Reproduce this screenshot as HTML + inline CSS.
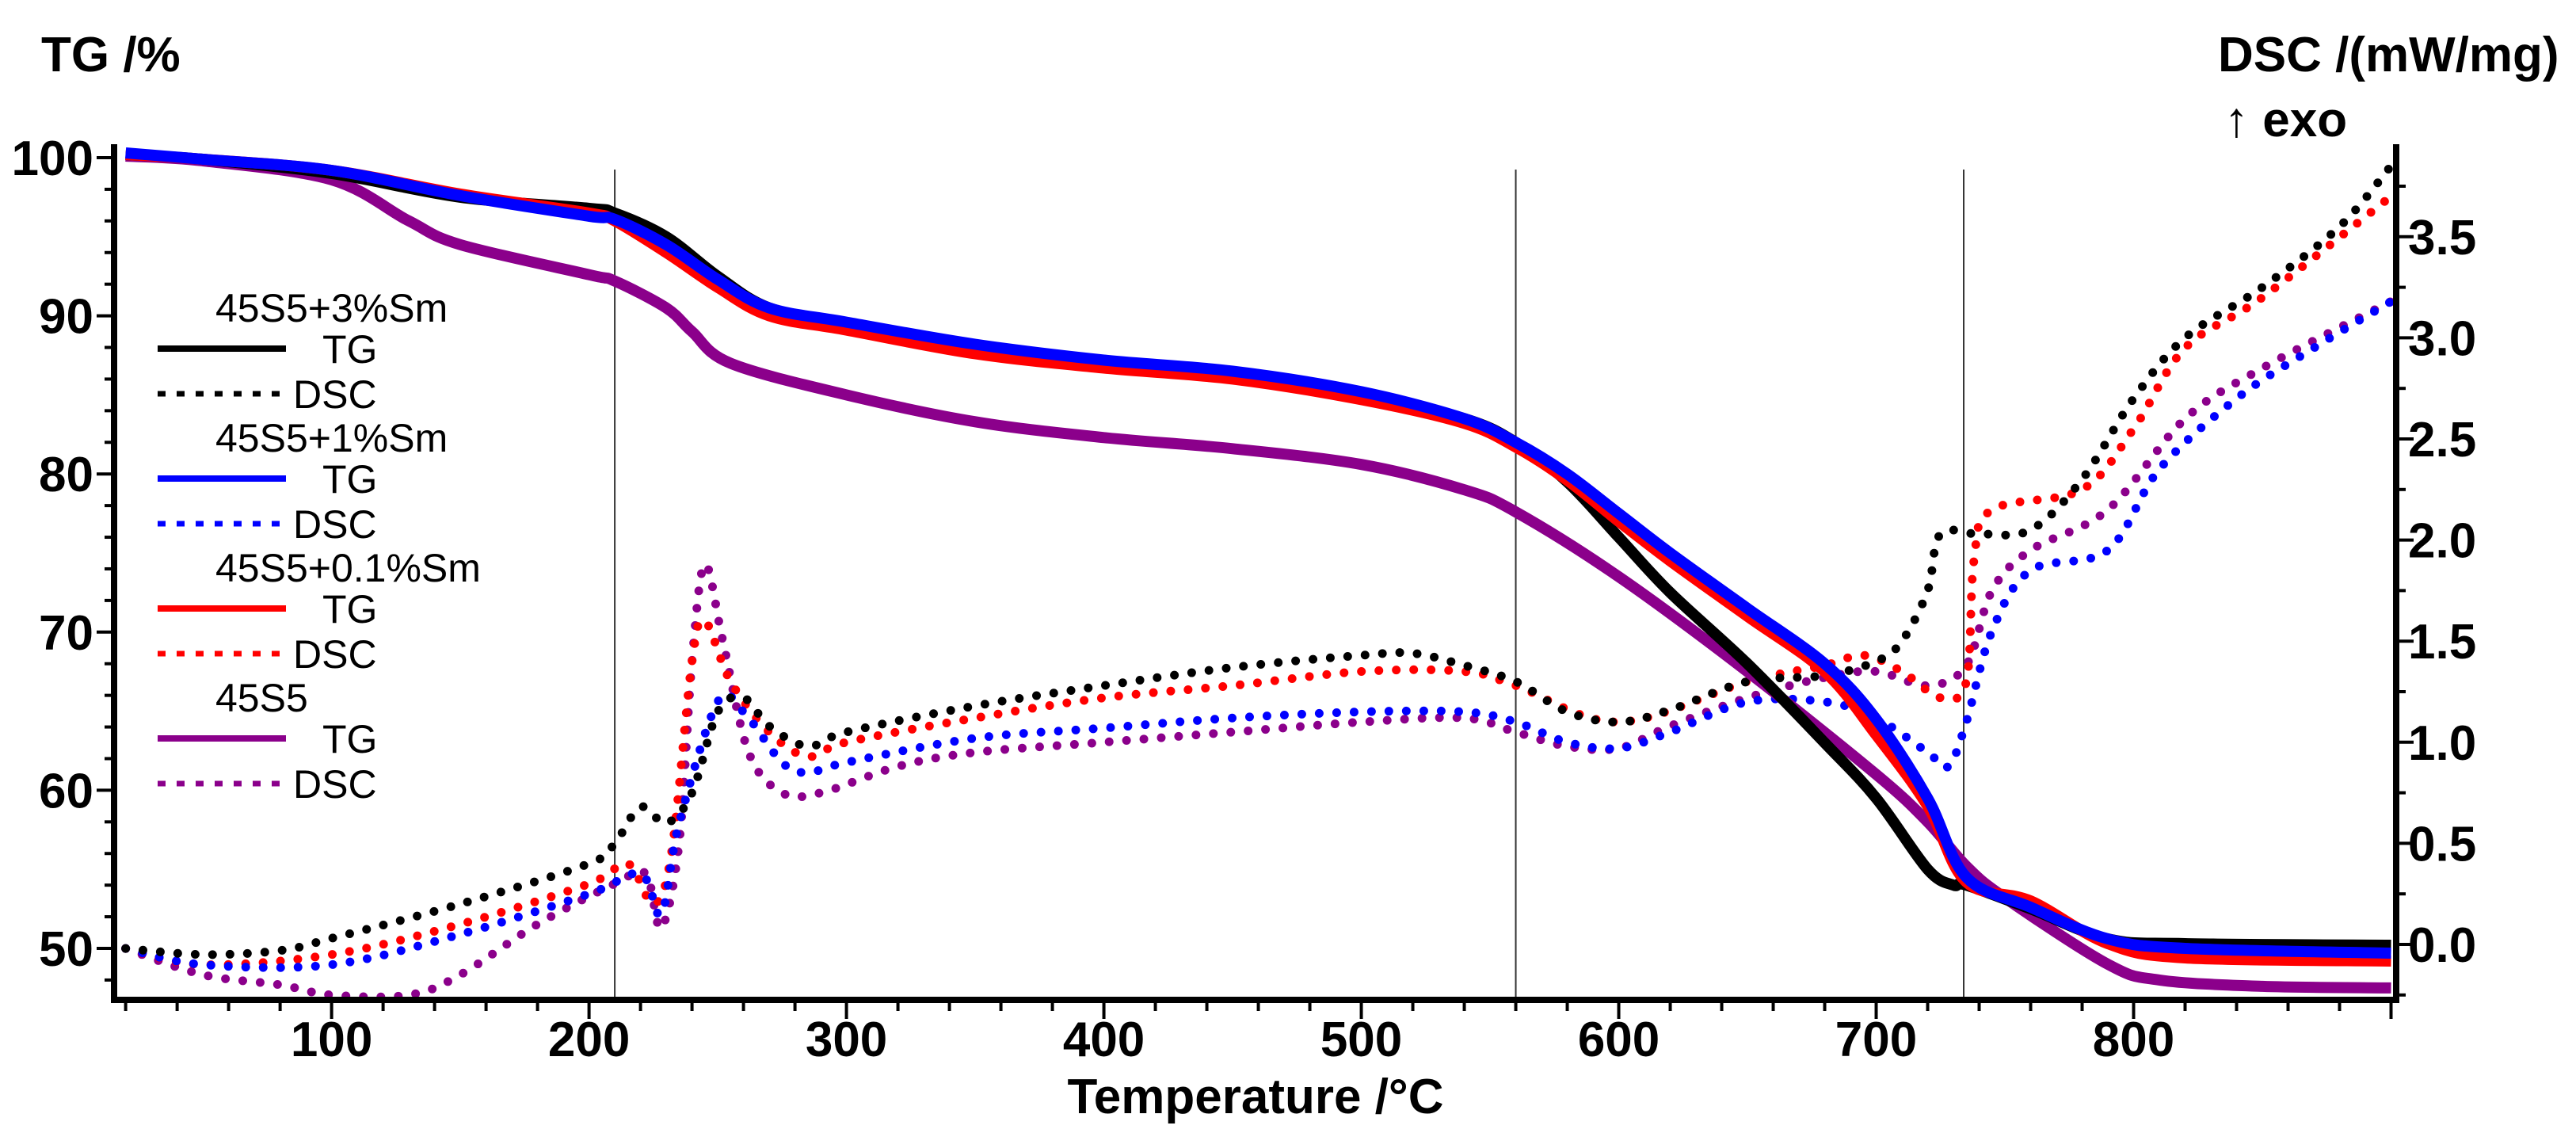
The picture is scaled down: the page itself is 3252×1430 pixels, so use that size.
<!DOCTYPE html>
<html><head><meta charset="utf-8"><style>
html,body{margin:0;padding:0;background:#fff;}
svg{display:block;font-family:"Liberation Sans",Arial,sans-serif;}
</style></head><body>
<svg id="chart" width="3252" height="1430" viewBox="0 0 3252 1430" xmlns="http://www.w3.org/2000/svg">
<g id="plot"></g>
<g id="axes"></g>
<text x="52" y="90" font-size="62" font-weight="bold">TG /%</text>
<text x="2800" y="90" font-size="62" font-weight="bold">DSC /(mW/mg)</text>
<text x="2808" y="172" font-size="62" font-weight="bold">↑ exo</text>
<text x="1585" y="1405" font-size="62" font-weight="bold" text-anchor="middle">Temperature /°C</text>
<g id="legend" font-size="50"></g>
</svg>
<script>
const xTicks=[100,200,300,400,500,600,700,800];
const yTicks=[50,60,70,80,90,100];
const dscTicks=[0.0,0.5,1.0,1.5,2.0,2.5,3.0,3.5];
const vLines=[210,560,734];
const names=["45S5+3%Sm","45S5+1%Sm","45S5+0.1%Sm","45S5"];
const colors=["#000000","#0000ff","#ff0000","#8b008b"];
const tgT0=[20,50,100,150,200,210,230,250,270,300,350,400,450,500,540,560,580,600,620,650,680,700,720,730,735,760,790,820,900];
const tgV0=[100.2,99.9,99.0,97.5,96.8,96.5,95,92.5,90.5,89.5,88,87,86.2,85,83.5,82,79.5,76,72.5,68,63,59.5,55,54,54,52.5,50.6,50.3,50.2];
const tgT1=[20,50,100,150,200,210,230,250,270,300,350,400,450,500,540,560,580,600,620,650,680,700,720,735,760,790,820,900];
const tgV1=[100.3,99.9,99.2,97.6,96.3,96.1,94.5,92.3,90.5,89.6,88.2,87.2,86.5,85.2,83.5,82,80,77.5,75,71.5,68,64.5,59.5,54.5,52.6,50.6,50,49.7];
const tgT2=[20,50,100,150,200,210,230,250,270,300,350,400,450,500,540,560,580,600,620,650,680,700,720,735,760,790,820,900];
const tgV2=[100.2,99.9,99.2,97.7,96.5,96,94,91.8,90,89.1,87.6,86.7,86,84.7,83.2,81.7,79.6,77,74.5,71,67.5,63.5,59,54.2,53,50.3,49.4,49.2];
const tgT3=[20,50,100,130,150,200,210,230,240,255,300,350,400,450,500,540,560,600,650,700,720,735,750,790,810,850,900];
const tgV3=[100.1,99.8,98.6,96,94.5,92.6,92.2,90.5,89,87,85,83.3,82.3,81.6,80.6,79,77.6,73.5,67.5,61,58,55.2,53.2,49,48,47.6,47.5];
const dT0=[20,50,80,100,150,200,210,220,230,240,250,260,270,285,300,350,400,450,500,520,540,560,580,600,620,650,680,700,710,720,725,740,760,780,800,820,850,880,900];
const dV0=[-0.02,-0.05,-0.03,0.03,0.2,0.4,0.5,0.68,0.6,0.75,1.15,1.22,1.08,0.98,1.05,1.18,1.28,1.37,1.43,1.44,1.38,1.3,1.15,1.1,1.16,1.3,1.33,1.4,1.5,1.75,2.03,2.03,2.05,2.3,2.7,3.0,3.25,3.55,3.85];
const dT1=[20,50,100,150,200,220,228,235,250,260,275,285,300,350,400,450,500,540,560,580,600,620,650,680,700,720,728,735,745,760,790,810,840,870,900];
const dV1=[-0.02,-0.1,-0.1,0.05,0.25,0.35,0.15,0.6,1.2,1.15,0.9,0.85,0.9,1.02,1.07,1.12,1.15,1.15,1.1,1.0,0.97,1.05,1.2,1.2,1.12,0.95,0.88,1.1,1.55,1.85,1.95,2.35,2.7,2.95,3.18];
const dT2=[20,50,100,150,200,215,225,232,240,245,255,270,285,300,350,400,450,500,540,560,600,650,680,695,710,725,735,738,745,780,800,820,850,900];
const dV2=[-0.02,-0.1,-0.05,0.1,0.3,0.4,0.2,0.45,1.4,1.6,1.3,1.05,0.93,1.0,1.12,1.22,1.28,1.35,1.35,1.28,1.1,1.3,1.38,1.43,1.35,1.22,1.3,1.9,2.15,2.25,2.55,2.95,3.2,3.7];
const dT3=[20,50,80,100,130,150,180,210,222,228,235,240,245,252,262,275,290,320,350,400,450,500,540,560,580,600,620,650,680,700,720,735,745,760,790,820,850,900];
const dV3=[-0.02,-0.15,-0.2,-0.25,-0.25,-0.15,0.1,0.3,0.35,0.08,0.5,1.4,1.88,1.5,0.95,0.75,0.75,0.88,0.95,1.0,1.05,1.1,1.12,1.05,0.98,0.97,1.08,1.22,1.32,1.35,1.28,1.38,1.75,1.95,2.15,2.6,2.85,3.18];
const tgT=[tgT0,tgT1,tgT2,tgT3], tgV=[tgV0,tgV1,tgV2,tgV3];
const dT=[dT0,dT1,dT2,dT3], dV=[dV0,dV1,dV2,dV3];

const L=144,R=3025,T=182,B=1262;
const X0=15.5,X1=902;
const xs=t=>L+(t-X0)/(X1-X0)*(R-L);
const yTG=v=>1197-(v-50)*19.96;
const yD=d=>1192-d*255.2;
const NS="http://www.w3.org/2000/svg";
function mk(tag,attrs,parent){const e=document.createElementNS(NS,tag);for(const k in attrs)e.setAttribute(k,attrs[k]);parent.appendChild(e);return e;}
function smooth(pts){let d="M"+pts[0][0]+","+pts[0][1];for(let i=0;i<pts.length-1;i++){const p0=pts[Math.max(0,i-1)],p1=pts[i],p2=pts[i+1],p3=pts[Math.min(pts.length-1,i+2)];const c1x=p1[0]+(p2[0]-p0[0])/6,c1y=p1[1]+(p2[1]-p0[1])/6,c2x=p2[0]-(p3[0]-p1[0])/6,c2y=p2[1]-(p3[1]-p1[1])/6;d+=" C"+c1x.toFixed(1)+","+c1y.toFixed(1)+" "+c2x.toFixed(1)+","+c2y.toFixed(1)+" "+p2[0].toFixed(1)+","+p2[1].toFixed(1);}return d;}
const plot=document.getElementById('plot'),axes=document.getElementById('axes'),leg=document.getElementById('legend');
vLines.forEach(t=>{const l=mk('line',{x1:xs(t),x2:xs(t),y1:214,y2:B,stroke:'#333',"stroke-width":2},plot);

});
for(let i=3;i>=0;i--){
 const p=mk('path',{d:smooth(dT[i].map((t,j)=>[xs(t),yD(dV[i][j])])),fill:'none',stroke:colors[i],"stroke-width":11,"stroke-linecap":"round","stroke-dasharray":"0 22"},plot);
 
 
}
[3,0,2,1].forEach(i=>{
 const p=mk('path',{d:smooth(tgT[i].map((t,j)=>[xs(t),yTG(tgV[i][j])])),fill:'none',stroke:colors[i],"stroke-width":14,"stroke-linejoin":"round"},plot);
 
 
});
// axes
mk('line',{x1:L,x2:L,y1:T,y2:B+4,stroke:'#000',"stroke-width":8},axes);
mk('line',{x1:R,x2:R,y1:T,y2:B+4,stroke:'#000',"stroke-width":8},axes);
mk('line',{x1:L-4,x2:R+4,y1:B,y2:B,stroke:'#000',"stroke-width":8},axes);
for(let t=20;t<=900;t+=20){const maj=t%100===0;mk('line',{x1:xs(t),x2:xs(t),y1:B,y2:B+(maj?24:14),stroke:'#000',"stroke-width":4},axes);}
xTicks.forEach(t=>{const e=mk('text',{x:xs(t),y:1333,"font-size":62,"font-weight":"bold","text-anchor":"middle"},axes);e.textContent=t;

});
for(let v=48;v<=100;v+=2){const maj=v%10===0;mk('line',{x1:L,x2:L-(maj?22:12),y1:yTG(v),y2:yTG(v),stroke:'#000',"stroke-width":4},axes);}
yTicks.forEach(v=>{const e=mk('text',{x:118,y:yTG(v)+22,"font-size":62,"font-weight":"bold","text-anchor":"end"},axes);e.textContent=v;

});
for(let d=-0.25;d<=3.8;d+=0.25){const maj=Math.abs(d*2-Math.round(d*2))<1e-6;mk('line',{x1:R,x2:R+(maj?22:12),y1:yD(d),y2:yD(d),stroke:'#000',"stroke-width":4},axes);}
dscTicks.forEach(d=>{const e=mk('text',{x:3040,y:yD(d)+22,"font-size":62,"font-weight":"bold"},axes);e.textContent=d.toFixed(1);

});
// legend
const legY=[388,552,716,880];
names.forEach((n,i)=>{
 const y=legY[i];
 const t=mk('text',{x:272,y:y+18},leg);t.textContent=n;
 
 
 const l1=mk('line',{x1:199,x2:361,y1:y+52,y2:y+52,stroke:colors[i],"stroke-width":8},leg);
 
 
 const t1=mk('text',{x:407,y:y+70},leg);t1.textContent="TG";
 
 
 const l2=mk('line',{x1:199,x2:361,y1:y+109,y2:y+109,stroke:colors[i],"stroke-width":7,"stroke-dasharray":"10 14"},leg);
 
 
 const t2=mk('text',{x:370,y:y+127},leg);t2.textContent="DSC";
 
 
});
</script>
</body></html>
